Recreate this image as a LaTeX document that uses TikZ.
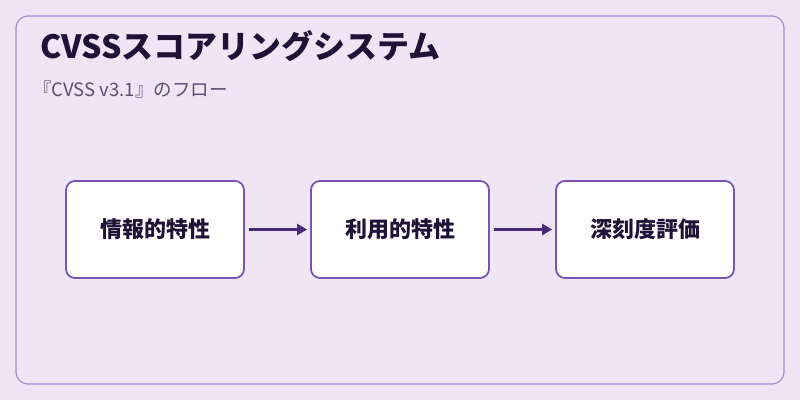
\documentclass[tikz,border=0pt]{standalone}
\usepackage{fontspec}
\setmainfont{Noto Sans CJK JP}
\usetikzlibrary{arrows.meta}
\definecolor{bg}{HTML}{EEE6F5}
\definecolor{frame}{HTML}{A98BD8}
\definecolor{boxline}{HTML}{7B52B5}
\definecolor{arr}{HTML}{4B2A7A}
\definecolor{ink}{HTML}{1E1236}
\definecolor{sub}{HTML}{5A5070}
\tikzset{
 stepbox/.style={draw=boxline,line width=1.8pt,fill=white,rounded corners=9pt,minimum width=178pt,minimum height=97pt,font=\fontsize{22}{24}\selectfont\bfseries,text=ink},
 flow/.style={draw=arr,line width=3pt,-{Triangle[length=10pt,width=11pt]}}
}
\begin{document}
\begin{tikzpicture}[x=1pt,y=-1pt]
\fill[bg] (0,0) rectangle (800,400);
\useasboundingbox (0,0) rectangle (800,400);
\draw[frame,line width=1.2pt,rounded corners=12pt] (16,16) rectangle (784,384);
\node[anchor=west,text=ink,font=\fontsize{32}{34}\selectfont\bfseries,inner sep=0pt] (title) at (40,46) {CVSSスコアリングシステム};
\node[anchor=west,text=sub,font=\fontsize{18.5}{20}\selectfont,inner sep=0pt] (subt) at (33,89) {『CVSS v3.1』のフロー};
\node[stepbox] (a) at (155,229.5) {情報的特性};
\node[stepbox] (b) at (400,229.5) {利用的特性};
\node[stepbox] (c) at (645,229.5) {深刻度評価};
\draw[flow] ([xshift=4pt]a.east) -- ([xshift=-3pt]b.west);
\draw[flow] ([xshift=4pt]b.east) -- ([xshift=-3pt]c.west);
\end{tikzpicture}
\end{document}
